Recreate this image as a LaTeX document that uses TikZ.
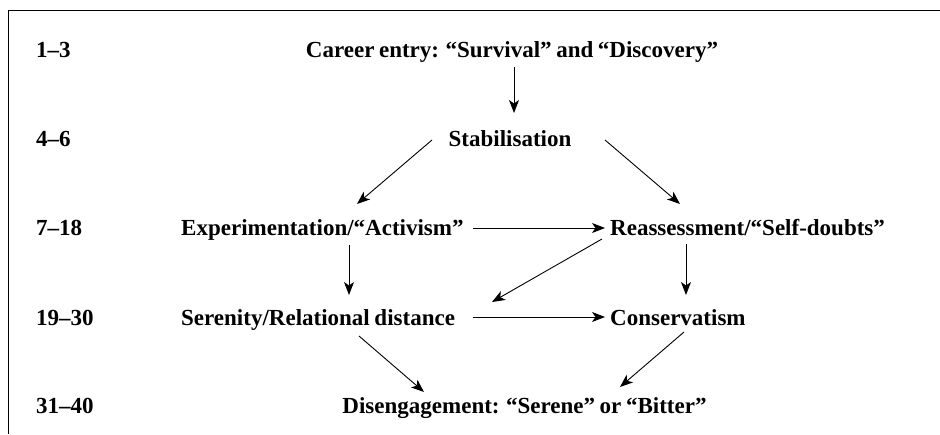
\documentclass[tikz,border=0pt]{standalone}
\usepackage{fontspec}
\setmainfont{Liberation Serif}[WordSpace=0.8]
\usetikzlibrary{arrows.meta}
\begin{document}
\begin{tikzpicture}[x=1pt,y=-1pt,
  lbl/.style={inner sep=0pt,font=\fontsize{23}{26}\selectfont\bfseries},
  arr/.style={line width=0.9pt,-{Stealth[length=13pt,width=10pt,inset=3.5pt]}},
  frame/.style={line width=1pt}]
\useasboundingbox (0,0) rectangle (940,434);
\coordinate (fr) at (940,10);
\coordinate (fc) at (8.5,10);
\coordinate (fb) at (8.5,434);
\draw[frame] (fr) -- (fc) -- (fb);
% year labels
\node[lbl,anchor=base west] (l1) at (36,57) {1–3};
\node[lbl,anchor=base west] (l2) at (36,146) {4–6};
\node[lbl,anchor=base west] (l3) at (36,235) {7–18};
\node[lbl,anchor=base west] (l4) at (36,325) {19–30};
\node[lbl,anchor=base west] (l5) at (36,413) {31–40};
% phases
\node[lbl,anchor=base] (career) at (512,57) {Career entry: “Survival” and “Discovery”};
\node[lbl,anchor=base] (stab) at (510,146) {Stabilisation};
\node[lbl,anchor=base west] (exp) at (181,235) {Experimentation/“Activism”};
\node[lbl,anchor=base west] (reass) at (610,235) {Reassessment/“Self-doubts”};
\node[lbl,anchor=base west] (ser) at (181,325) {Serenity/Relational distance};
\node[lbl,anchor=base west] (cons) at (610,325) {Conservatism};
\node[lbl,anchor=base] (dis) at (524.5,413) {Disengagement: “Serene” or “Bitter”};
% arrows
\draw[arr] ([shift={(2,10)}]career.base) -- ([shift={(4,-33)}]stab.base);
\draw[arr] ([shift={(-78,-6)}]stab.base) -- ([shift={(176,-31)}]exp.base west);
\draw[arr] ([shift={(95,-6)}]stab.base) -- ([shift={(70,-31)}]reass.base west);
\draw[arr] ([shift={(292,-7)}]exp.base west) -- ([shift={(-5,-7)}]reass.base west);
\draw[arr] ([shift={(168,10)}]exp.base west) -- ([shift={(168,-30)}]ser.base west);
\draw[arr] ([shift={(-8,4)}]reass.base west) -- ([shift={(311,-23)}]ser.base west);
\draw[arr] ([shift={(76,9)}]reass.base west) -- ([shift={(76,-30)}]cons.base west);
\draw[arr] ([shift={(292,-8)}]ser.base west) -- ([shift={(-5,-8)}]cons.base west);
\draw[arr] ([shift={(178,11)}]ser.base west) -- ([shift={(-100.5,-21)}]dis.base);
\draw[arr] ([shift={(74,7)}]cons.base west) -- ([shift={(95.5,-26)}]dis.base);
\end{tikzpicture}
\end{document}
